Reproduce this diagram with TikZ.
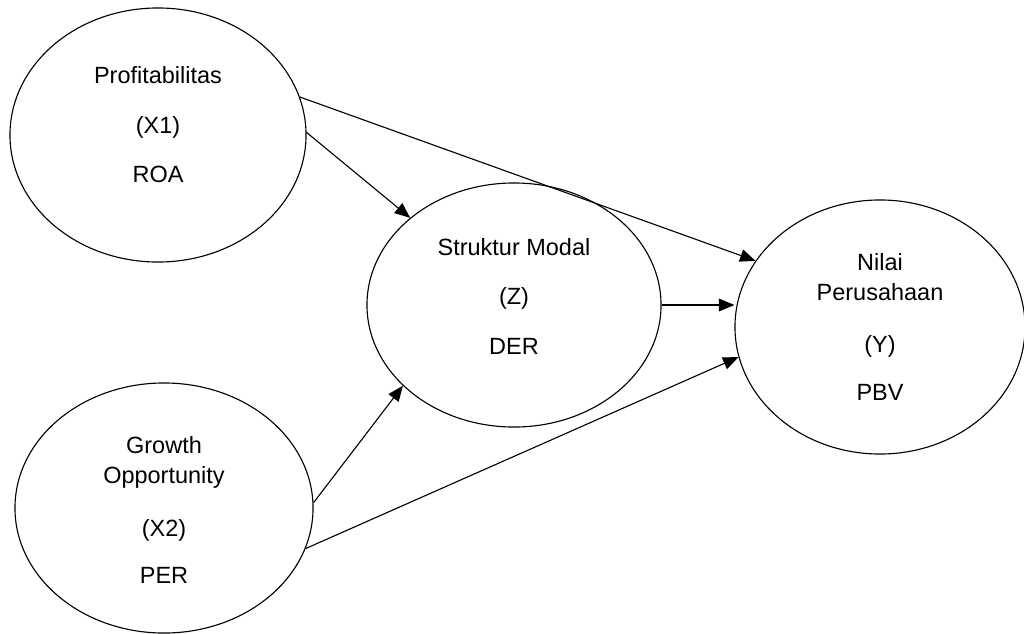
\documentclass[tikz,border=0pt]{standalone}
\usepackage{fontspec}
\setmainfont{Liberation Sans}
\usetikzlibrary{arrows.meta,shapes.geometric}

\tikzset{
	var/.style={draw, ellipse, line width=0.8pt, inner sep=0pt, align=center,
		font=\fontsize{16.7}{21.3}\selectfont},
	arr/.style={->, line width=0.8pt}
}

\begin{document}
\begin{tikzpicture}[x=0.025cm,y=-0.025cm,>={Triangle[length=11pt,width=9pt]}]
	
	\useasboundingbox (0,0) rectangle (1024,633);
	
	% Draw the variables
	\node[var, minimum width=7.4cm, minimum height=6.35cm] (x1) at (158,135)
		{Profitabilitas\\[14pt](X1)\\[14pt]ROA\\[-13pt]\strut};
	\node[var, minimum width=7.45cm, minimum height=6.25cm] (x2) at (164,508)
		{\strut\\[-21pt]Growth\\Opportunity\\[16pt](X2)\\[12.5pt]PER};
	\node[var, minimum width=7.35cm, minimum height=6.1cm] (z) at (514,305)
		{Struktur Modal\\[14pt](Z)\\[14pt]DER\\[-15.5pt]\strut};
	\node[var, minimum width=7.25cm, minimum height=6.35cm] (y) at (880,327)
		{Nilai\\Perusahaan\\[16pt](Y)\\[12.5pt]PBV};
	
	% Draw the paths
	\draw[arr] (x1.15) -- (y.152);
	\draw[arr] (x1.1) -- (z.140);
	\draw[arr] (z.east) -- (z.east -| y.west);
	\draw[arr] (x2.2) -- (z.216);
	\draw[arr] (x2.-16) -- (y.192);
	
\end{tikzpicture}
\end{document}
